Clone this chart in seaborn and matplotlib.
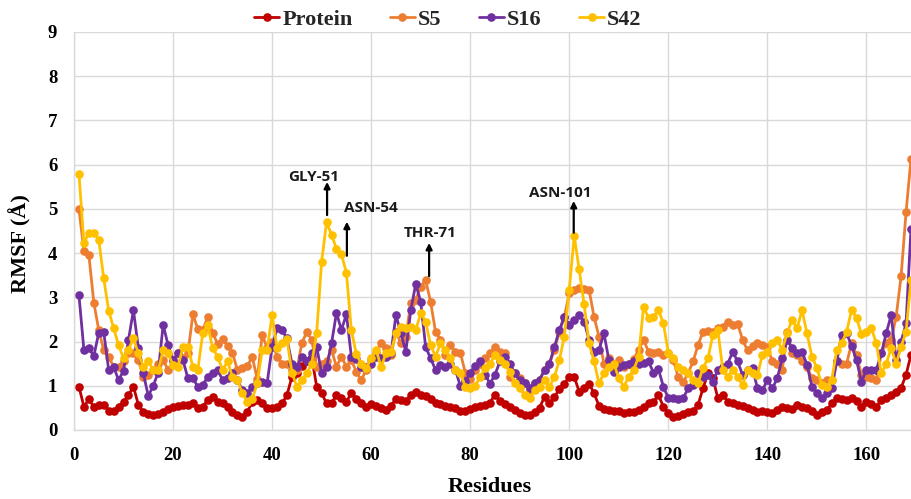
import numpy as np
import pandas as pd
import matplotlib
matplotlib.use("Agg")
import matplotlib.pyplot as plt
import seaborn as sns

# ---------------- data ----------------
residues = list(range(1, 170))

protein = [0.98,0.53,0.69,0.53,0.57,0.57,0.44,0.44,0.53,0.64,0.79,0.98,0.57,0.41,0.36,0.34,0.36,0.41,0.47,0.53,
           0.54,0.57,0.57,0.6,0.49,0.53,0.68,
           0.74,0.64,0.6,0.53,0.41,0.34,0.3,0.41,0.64,0.68,0.6,0.49,0.49,0.53,0.6,0.79,1.2,1.3,1.45,1.55,
           1.65,0.98,0.83,0.6,0.6,0.79,0.72,0.64,0.83,
           0.7,0.6,0.53,0.58,0.55,0.5,0.45,0.55,0.7,0.68,0.65,0.8,0.85,0.8,0.77,0.7,0.6,0.58,0.55,0.52,
           0.5,0.42,0.43,0.47,0.53,0.54,0.56,0.62,
           0.8,0.65,0.58,0.52,0.45,0.38,0.34,0.34,0.4,0.5,0.75,0.6,0.75,0.92,1.05,1.2,1.2,0.87,0.95,1.05,
           0.83,0.55,0.47,0.45,0.43,0.43,0.38,0.4,
           0.4,0.45,0.53,0.6,0.64,0.79,0.53,0.38,0.3,0.32,0.36,0.41,0.43,0.57,0.94,1.28,1.17,0.72,0.79,0.64,
           0.6,0.57,0.55,0.49,0.45,0.41,0.43,0.41,
           0.38,0.45,0.53,0.5,0.47,0.57,0.53,0.49,0.42,0.34,0.4,0.45,0.6,0.72,0.7,0.68,0.72,0.65,0.53,0.64,
           0.58,0.53,0.68,0.72,0.79,0.87,0.95,1.25,1.7]

s5 = [5.0,4.05,3.96,2.88,2.26,1.81,1.66,1.43,1.43,1.55,1.73,1.73,1.58,1.2,1.24,1.36,1.5,1.58,1.36,1.55,
      1.73,1.62,1.73,2.62,2.28,2.26,2.56,
      2.19,1.95,2.05,1.9,1.75,1.35,1.4,1.45,1.65,1.15,2.15,1.85,2.0,1.66,1.5,1.5,1.36,1.36,1.96,2.22,
      2.04,1.43,1.5,1.55,1.81,1.43,1.66,1.43,1.58,
      1.32,1.13,1.36,1.58,1.73,1.96,1.85,1.7,2.22,1.96,2.11,2.87,2.94,3.24,3.39,2.9,2.22,2.04,1.7,1.92,
      1.77,1.75,1.3,1.15,1.35,1.5,1.62,1.73,
      1.88,1.77,1.73,1.2,1.28,1.17,1.06,0.9,1.06,1.13,1.36,1.5,1.81,2.22,2.56,3.09,3.17,3.2,3.18,3.17,
      2.56,2.11,1.5,1.62,1.5,1.58,1.43,1.5,
      1.6,1.81,2.04,1.77,1.73,1.77,1.7,1.73,1.58,1.2,1.09,1.28,1.55,1.92,2.22,2.25,2.22,2.3,2.34,2.45,
      2.37,2.4,2.04,1.8,1.9,1.96,1.92,1.88,
      1.55,1.5,1.36,2.22,1.73,1.7,1.55,1.43,1.17,1.13,1.06,1.13,1.13,1.55,1.5,1.5,1.96,1.7,1.24,1.2,
      1.17,1.13,1.73,1.96,2.04,2.56,3.48,4.92,6.13]

s16 = [3.05,1.81,1.85,1.67,2.2,2.22,1.36,1.43,1.13,1.34,2.04,2.71,1.85,1.28,0.77,1.0,1.3,2.38,1.92,1.58,
       1.73,1.58,1.17,1.17,0.98,1.02,1.2,
       1.3,1.36,1.13,1.17,1.28,1.13,0.9,0.83,0.98,1.06,1.09,1.06,1.88,2.3,2.26,2.07,1.5,1.43,1.66,1.55,
       1.73,1.88,1.28,1.43,1.96,2.65,2.26,2.62,1.66,
       1.6,1.43,1.43,1.5,1.66,1.62,1.66,1.73,2.6,2.19,1.77,2.71,3.3,2.9,1.88,1.62,1.36,1.47,1.43,1.5,
       1.36,1.0,1.1,1.3,1.45,1.55,1.25,1.05,
       1.25,1.55,1.66,1.5,1.28,1.13,1.06,0.94,1.06,1.13,1.36,1.5,1.88,2.26,2.56,2.38,2.49,2.6,2.45,2.04,
       1.77,1.81,2.19,1.58,1.32,1.43,1.47,1.5,
       1.57,1.5,1.52,1.55,1.3,1.38,0.98,0.72,0.72,0.69,0.72,0.94,1.02,1.28,1.2,1.24,1.09,1.36,1.43,1.5,
       1.77,1.55,1.24,1.36,1.4,0.94,0.9,1.13,
       0.94,1.17,1.62,2.04,1.85,1.73,1.77,1.47,0.98,0.83,0.72,0.83,0.94,1.55,2.15,2.19,1.9,1.58,1.09,1.36,
       1.36,1.36,1.73,2.19,2.6,1.58,2.0,2.41,4.55]

s42 = [5.8,4.22,4.46,4.46,4.3,3.43,2.7,2.3,1.92,1.62,1.82,2.07,1.73,1.43,1.55,1.36,1.36,1.8,1.73,1.47,
       1.43,1.88,1.87,1.43,1.36,2.19,2.37,
       1.85,1.66,1.36,1.55,1.2,1.13,0.83,0.64,0.7,1.06,1.81,1.81,2.6,1.85,1.96,2.05,1.3,0.98,1.13,1.28,
       1.5,2.19,3.81,4.7,4.41,4.1,3.97,3.56,2.26,
       1.72,1.5,1.4,1.62,1.81,1.43,1.73,1.77,2.19,2.34,2.3,2.34,2.26,2.64,2.45,1.92,1.66,1.96,1.81,1.62,
       1.36,1.3,0.98,0.94,1.0,1.2,1.4,1.5,
       1.7,1.58,1.5,1.32,1.06,0.94,0.79,0.72,0.9,0.98,1.13,0.98,1.2,1.58,2.11,3.17,4.39,3.63,2.84,1.96,
       1.55,1.06,1.28,1.43,1.5,1.17,0.98,1.2,
       1.36,1.65,2.79,2.53,2.55,2.72,2.41,1.75,1.62,1.43,1.36,1.28,1.13,1.06,1.4,1.62,2.15,2.26,1.36,1.2,
       1.36,1.2,1.02,1.36,1.28,1.24,1.7,1.77,
       1.96,2.04,1.81,2.2,2.49,2.3,2.71,2.19,1.66,1.4,1.02,0.98,1.13,1.81,1.96,2.22,2.71,2.53,2.17,2.22,
       2.3,1.96,1.28,1.5,1.85,1.5,1.88,2.22,3.4]

series_names = ["Protein", "S5", "S16", "S42"]
series_colors = ["#C00000", "#ED7D31", "#7030A0", "#FFC000"]

annot_labels = ["GLY-51", "ASN-54", "THR-71", "ASN-101"]
annot_x = [51.1, 55.1, 71.7, 100.9]          # arrow x (residue)
annot_y0 = [4.86, 3.94, 3.48, 4.46]          # arrow tail
annot_y1 = [5.61, 4.71, 4.23, 5.18]          # arrow head
annot_tx = [48.3, 60.0, 71.9, 98.1]          # text centre x
annot_ty = [5.72, 5.02, 4.45, 5.36]          # text centre y

x_ticks = [0, 20, 40, 60, 80, 100, 120, 140, 160]
y_ticks = [0, 1, 2, 3, 4, 5, 6, 7, 8, 9]

# ---------------- frame ----------------
df = pd.DataFrame({
    "Residue": residues * 4,
    "RMSF": protein + s5 + s16 + s42,
    "Series": sum([[n] * len(residues) for n in series_names], []),
})

sns.set_theme(style="whitegrid")
plt.rcParams["font.family"] = ["Liberation Serif", "DejaVu Serif"]

W, H = 911, 499
fig = plt.figure(figsize=(W / 100, H / 100), dpi=100)
ax_left, ax_right, ax_top, ax_bot = 74, 911, 32, 430
ax = fig.add_axes([ax_left / W, 1 - ax_bot / H, (ax_right - ax_left) / W, (ax_bot - ax_top) / H])

sns.lineplot(data=df, x="Residue", y="RMSF", hue="Series", hue_order=series_names,
             palette=dict(zip(series_names, series_colors)), marker="o", markersize=6.2,
             markeredgewidth=0, linewidth=2.0, estimator=None, sort=False, ax=ax)

ax.set_xlim(0, 169)
ax.set_ylim(0, 9)
ax.set_xticks(x_ticks)
ax.set_yticks(y_ticks)
ax.grid(True, color="#D9D9D9", linewidth=1.0)
ax.set_facecolor("white")
for s in ["top", "right"]:
    ax.spines[s].set_visible(False)
for s in ["left", "bottom"]:
    ax.spines[s].set_color("#D9D9D9")
    ax.spines[s].set_linewidth(1.0)
ax.tick_params(axis="both", length=0, pad=12, labelsize=13.5)
for lab in ax.get_xticklabels() + ax.get_yticklabels():
    lab.set_fontweight("bold")
    lab.set_color("black")

ax.set_xlabel("Residues", fontsize=16, fontweight="bold", color="black")
ax.set_ylabel("RMSF (Å)", fontsize=16, fontweight="bold", color="black")
ax.xaxis.set_label_coords((490 - ax_left) / (ax_right - ax_left), -(477 - ax_bot) / (ax_bot - ax_top))
ax.yaxis.set_label_coords(-(ax_left - 31) / (ax_right - ax_left), (ax_bot - 244) / (ax_bot - ax_top))

# annotations
for lab, x, y0, y1, tx, ty in zip(annot_labels, annot_x, annot_y0, annot_y1, annot_tx, annot_ty):
    ax.annotate("", xy=(x, y1), xytext=(x, y0),
                arrowprops=dict(arrowstyle="-|>", color="black", lw=1.6, mutation_scale=9,
                                shrinkA=0, shrinkB=0))
    ax.text(tx, ty, lab, ha="center", va="center", fontsize=11, fontweight="bold",
            family=["Open Sans", "DejaVu Sans"], color="#1a1a1a")

# legend
handles, labels = ax.get_legend_handles_labels()
ax.legend_.remove()
leg = fig.legend(handles, labels, loc="center", bbox_to_anchor=(448 / W, 1 - 20 / H), ncol=4,
                 frameon=False, handlelength=1.1, handletextpad=0.15, columnspacing=1.7,
                 prop=dict(family="Liberation Serif", weight="bold", size=16))

fig.savefig("out.png", dpi=100)
